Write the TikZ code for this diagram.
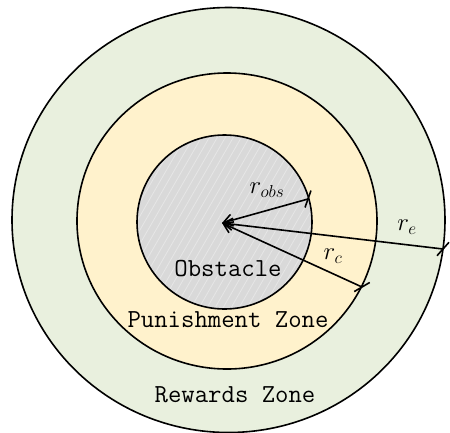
\documentclass[tikz,border=0pt]{standalone}
\usepackage{amsmath}
\usepackage{xcolor}
\usepackage{tikz}
\usetikzlibrary{arrows.meta, calc}
\definecolor{rewardgreen}{HTML}{E9F0DE}
\definecolor{punishyellow}{HTML}{FFF2CC}
\definecolor{obsgray}{HTML}{D9D9D9}
\definecolor{hatchgray}{HTML}{E6E6E6}

\begin{document}
\begin{tikzpicture}[x=1pt, y=-1pt,
  zone/.style={draw=black, line width=1.6pt},
  radiusline/.style={line width=1.6pt,
    {Straight Barb[length=9pt, width=12pt, line width=1.6pt]}-},
  tickmark/.style={line width=1.6pt},
  zonetext/.style={font=\fontsize{26}{26}\selectfont\ttfamily, inner sep=0pt},
  rlabel/.style={font=\fontsize{27}{27}\selectfont, inner sep=0pt}]
  \useasboundingbox (0,0) rectangle (450,432);
  \clip (0,0) rectangle (450,432);
  %% rewards, punishment and obstacle zones
  \filldraw[zone, fill=rewardgreen] (228.5,220) ellipse [x radius=216.5, y radius=212.5];
  \filldraw[zone, fill=punishyellow] (227,221) ellipse [x radius=150, y radius=148];
  \fill[obsgray] (224.5,222) ellipse [x radius=87.5, y radius=87];
  %% faint hatching inside the obstacle
  \begin{scope}
    \clip (224.5,222) ellipse [x radius=87.5, y radius=87];
    \foreach \i in {24,32,...,328}
      \draw[hatchgray, line width=0.8pt] (\i,320) -- ++(120,-208);
  \end{scope}
  \draw[zone] (224.5,222) ellipse [x radius=87.5, y radius=87];
  %% radii, all from the centre, with a slanted bar where they meet the rim
  \coordinate (ctr) at (222,223);
  \coordinate (obsend) at (308,199);
  \coordinate (cend) at (362,287);
  \coordinate (eend) at (443,249);
  \foreach \e in {obsend, cend, eend} {
    \draw[radiusline] (ctr) -- (\e);
    \draw[tickmark] ($(\e)!9pt!55:(ctr)$) -- ($(\e)!-9pt!55:(ctr)$);
  }
  \node[rlabel] (robs) at (267,190) {$r_{obs}$};
  \node[rlabel] (rc) at (333,256) {$r_{c}$};
  \node[rlabel] (re) at (407,227) {$r_{e}$};
  %% zone names
  \node[zonetext] (obstacle) at (228,269) {Obstacle};
  \node[zonetext] (punish) at (228,320) {Punishment Zone};
  \node[zonetext] (reward) at (235,395) {Rewards Zone};
\end{tikzpicture}
\end{document}
